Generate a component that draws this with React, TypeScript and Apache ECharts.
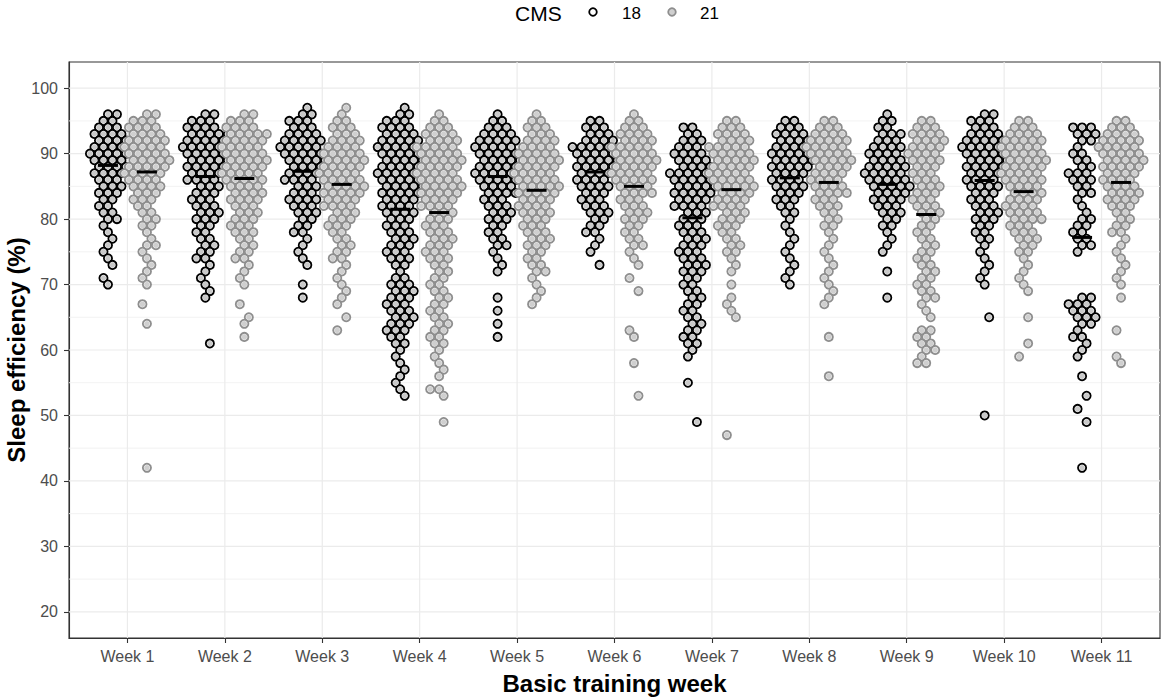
import React, { useEffect, useRef } from "react";
import * as echarts from "echarts";

// ---------- data ----------
const WEEKS = ["Week 1", "Week 2", "Week 3", "Week 4", "Week 5", "Week 6", "Week 7", "Week 8", "Week 9", "Week 10", "Week 11"];
const GROUPS = ["18", "21"];
const Y_TICKS = [20, 30, 40, 50, 60, 70, 80, 90, 100];
const Y_MINOR = [25, 35, 45, 55, 65, 75, 85, 95];

// median sleep efficiency per week
const MEDIAN_18 = [88.2, 86.5, 87.3, 81.5, 86.5, 87.2, 80.2, 86.3, 85.3, 85.9, 77.2];
const MEDIAN_21 = [87.2, 86.2, 85.3, 81.0, 84.4, 85.0, 84.5, 85.6, 80.7, 84.2, 85.6];

// [sleep efficiency %, number of observations]
const W1_18 = [[96,2],[95,2],[94,3],[93,4],[92,4],[91,4],[90,5],[89,4],[88,4],[87,4],[86,3],[85,3],[84,3],[83,2],[82,2],[81,2],[80,2],[79,1],[78,1],[77,1],[76,1],[75,1],[74,1],[73,1],[71,1],[70,1]];
const W1_21 = [[96,2],[95,3],[94,4],[93,4],[92,5],[91,5],[90,5],[89,5],[88,5],[87,5],[86,4],[85,4],[84,3],[83,3],[82,2],[81,2],[80,2],[79,2],[78,1],[77,1],[76,2],[75,1],[74,1],[73,1],[72,1],[71,1],[70,1],[67,1],[64,1],[42,1]];
const W2_18 = [[96,2],[95,3],[94,4],[93,5],[92,5],[91,5],[90,5],[89,5],[88,5],[87,4],[86,4],[85,3],[84,3],[83,3],[82,3],[81,3],[80,3],[79,2],[78,2],[77,2],[76,2],[75,2],[74,2],[73,1],[72,1],[71,1],[70,1],[69,1],[68,1],[61,1]];
const W2_21 = [[96,2],[95,3],[94,4],[93,5],[92,5],[91,5],[90,5],[89,5],[88,5],[87,5],[86,5],[85,4],[84,4],[83,4],[82,3],[81,3],[80,3],[79,3],[78,3],[77,2],[76,2],[75,2],[74,2],[73,1],[72,1],[71,1],[70,1],[67,1],[65,1],[64,1],[62,1]];
const W3_18 = [[97,1],[96,2],[95,3],[94,3],[93,4],[92,5],[91,5],[90,5],[89,5],[88,4],[87,4],[86,4],[85,3],[84,3],[83,4],[82,3],[81,3],[80,2],[79,2],[78,2],[77,1],[76,1],[75,1],[74,1],[73,1],[70,1],[68,1]];
const W3_21 = [[97,1],[96,1],[95,2],[94,3],[93,3],[92,4],[91,4],[90,5],[89,5],[88,5],[87,5],[86,5],[85,5],[84,5],[83,4],[82,4],[81,3],[80,3],[79,3],[78,2],[77,2],[76,2],[75,2],[74,2],[73,1],[72,1],[71,1],[70,1],[69,1],[68,1],[67,1],[65,1],[63,1]];
const W4_18 = [[97,1],[96,2],[95,3],[94,4],[93,4],[92,5],[91,5],[90,5],[89,5],[88,5],[87,5],[86,5],[85,5],[84,5],[83,4],[82,4],[81,4],[80,3],[79,3],[78,3],[77,3],[76,3],[75,3],[74,3],[73,2],[72,1],[71,2],[70,3],[69,3],[68,3],[67,3],[66,3],[65,3],[64,3],[63,3],[62,2],[61,2],[60,1],[59,1],[58,1],[57,1],[56,1],[55,1],[54,1],[53,1]];
const W4_21 = [[96,1],[95,2],[94,3],[93,4],[92,4],[91,5],[90,5],[89,5],[88,5],[87,5],[86,5],[85,5],[84,5],[83,4],[82,4],[81,3],[80,3],[79,3],[78,3],[77,3],[76,3],[75,3],[74,3],[73,2],[72,2],[71,2],[70,2],[69,2],[68,2],[67,2],[66,2],[65,2],[64,2],[63,2],[62,2],[61,2],[60,1],[59,1],[58,1],[57,1],[56,1],[54,2],[53,1],[49,1]];
const W5_18 = [[96,1],[95,2],[94,3],[93,4],[92,5],[91,5],[90,5],[89,5],[88,5],[87,5],[86,5],[85,4],[84,4],[83,3],[82,3],[81,3],[80,3],[79,2],[78,2],[77,2],[76,2],[75,1],[74,1],[73,1],[72,1],[68,1],[66,1],[64,1],[62,1]];
const W5_21 = [[96,1],[95,2],[94,3],[93,3],[92,4],[91,4],[90,5],[89,5],[88,5],[87,5],[86,5],[85,5],[84,5],[83,4],[82,4],[81,4],[80,3],[79,3],[78,3],[77,3],[76,3],[75,2],[74,2],[73,2],[72,2],[71,1],[70,1],[69,1],[68,1],[67,1]];
const W6_18 = [[95,2],[94,3],[93,3],[92,4],[91,5],[90,5],[89,5],[88,5],[87,4],[86,4],[85,4],[84,3],[83,3],[82,3],[81,3],[80,2],[79,2],[78,2],[77,1],[76,1],[75,1],[73,1]];
const W6_21 = [[96,1],[95,2],[94,3],[93,4],[92,4],[91,5],[90,5],[89,5],[88,5],[87,5],[86,5],[85,4],[84,4],[83,3],[82,3],[81,3],[80,3],[79,2],[78,2],[77,2],[76,2],[75,1],[74,1],[73,1],[71,1],[69,1],[63,1],[62,1],[58,1],[53,1]];
const W7_18 = [[94,2],[93,2],[92,3],[91,3],[90,4],[89,4],[88,4],[87,5],[86,5],[85,5],[84,5],[83,4],[82,4],[81,3],[80,3],[79,3],[78,3],[77,3],[76,3],[75,3],[74,3],[73,3],[72,3],[71,2],[70,2],[69,2],[68,2],[67,2],[66,2],[65,2],[64,2],[63,2],[62,2],[61,2],[60,1],[59,1],[55,1],[49,1]];
const W7_21 = [[95,2],[94,3],[93,4],[92,4],[91,5],[90,5],[89,5],[88,5],[87,5],[86,5],[85,5],[84,4],[83,4],[82,4],[81,3],[80,3],[79,3],[78,2],[77,2],[76,2],[75,2],[74,1],[73,1],[72,1],[70,1],[68,1],[67,1],[66,1],[65,1],[47,1]];
const W8_18 = [[95,2],[94,3],[93,4],[92,4],[91,4],[90,5],[89,5],[88,5],[87,4],[86,4],[85,4],[84,3],[83,3],[82,2],[81,2],[80,1],[79,1],[78,1],[77,1],[76,1],[75,1],[74,1],[73,1],[72,1],[71,1],[70,1]];
const W8_21 = [[95,2],[94,3],[93,4],[92,5],[91,5],[90,5],[89,5],[88,4],[87,4],[86,4],[85,4],[84,4],[83,3],[82,3],[81,2],[80,2],[79,2],[78,1],[77,1],[76,1],[75,1],[74,1],[73,1],[72,1],[71,1],[70,1],[69,1],[68,1],[67,1],[62,1],[56,1]];
const W9_18 = [[96,1],[95,2],[94,2],[93,3],[92,3],[91,4],[90,4],[89,4],[88,5],[87,5],[86,5],[85,5],[84,4],[83,4],[82,3],[81,3],[80,2],[79,2],[78,1],[77,1],[76,1],[75,1],[72,1],[68,1]];
const W9_21 = [[95,2],[94,3],[93,4],[92,4],[91,4],[90,4],[89,4],[88,3],[87,3],[86,3],[85,3],[84,3],[83,3],[82,3],[81,3],[80,2],[79,2],[78,2],[77,2],[76,2],[75,2],[74,2],[73,2],[72,2],[71,2],[70,2],[69,2],[68,2],[67,1],[66,1],[65,1],[63,2],[62,2],[61,2],[60,2],[59,1],[58,2]];
const W10_18 = [[96,2],[95,3],[94,3],[93,4],[92,5],[91,5],[90,5],[89,5],[88,5],[87,4],[86,4],[85,4],[84,3],[83,3],[82,3],[81,3],[80,3],[79,2],[78,2],[77,2],[76,1],[75,1],[74,1],[73,1],[72,1],[71,1],[70,1],[65,1],[50,1]];
const W10_21 = [[95,2],[94,3],[93,4],[92,5],[91,5],[90,5],[89,5],[88,5],[87,5],[86,5],[85,4],[84,4],[83,4],[82,4],[81,4],[80,4],[79,3],[78,3],[77,3],[76,2],[75,2],[74,1],[73,1],[72,1],[71,1],[70,1],[69,1],[65,1],[61,1],[59,1]];
const W11_18 = [[94,3],[93,3],[92,2],[91,1],[90,2],[89,2],[88,2],[87,3],[86,3],[85,2],[84,2],[83,1],[82,1],[81,1],[80,2],[79,2],[78,2],[77,2],[76,2],[75,1],[68,2],[67,3],[66,3],[65,3],[64,2],[63,1],[62,2],[61,1],[60,1],[59,1],[56,1],[53,1],[51,1],[49,1],[42,1]];
const W11_21 = [[95,2],[94,3],[93,4],[92,5],[91,5],[90,5],[89,5],[88,5],[87,4],[86,4],[85,4],[84,4],[83,4],[82,3],[81,2],[80,2],[79,2],[78,2],[77,1],[76,1],[75,1],[74,1],[73,1],[72,1],[71,1],[70,1],[68,1],[63,1],[59,1],[58,1]];

const CMS18 = [W1_18, W2_18, W3_18, W4_18, W5_18, W6_18, W7_18, W8_18, W9_18, W10_18, W11_18];
const CMS21 = [W1_21, W2_21, W3_21, W4_21, W5_21, W6_21, W7_21, W8_21, W9_21, W10_21, W11_21];

// ---------- layout ----------
const W = 1170;
const H = 700;
const GRID = { left: 69, right: 10, top: 62, bottom: 62 };
const Y_MIN = 16;
const Y_MAX = 104;
const X_MIN = 0.4;
const X_MAX = 11.6;
const DODGE = 0.2;
const R = 4.1;
const STROKE_W = 1.8;
const SPACING = 9;
const FONT = "'Liberation Sans', Arial, Helvetica, sans-serif";

// beeswarm-like packing: points sharing a value sit side by side,
// neighbouring rows are staggered by half a point so they interlock.
function rowOffsets(value: number, n: number): number[] {
  const natural = n % 2 === 0 ? SPACING / 2 : 0;
  const desired = Math.round(value) % 2 === 0 ? 0 : SPACING / 2;
  let shift = 0;
  if (Math.abs(desired - natural) > 1e-6) {
    shift = (Math.floor(Math.round(value) / 2) % 2 === 0 ? 1 : -1) * (SPACING / 2);
  }
  const out: number[] = [];
  for (let i = 0; i < n; i++) out.push((i - (n - 1) / 2) * SPACING + shift);
  return out;
}

function buildPoints(weeks: number[][][], dodge: number): number[][] {
  const out: number[][] = [];
  weeks.forEach((bins, wi) => {
    bins.forEach(([v, n]) => {
      rowOffsets(v, n).forEach((off) => out.push([wi + 1 + dodge, v, off]));
    });
  });
  return out;
}

const STYLE = {
  "18": { stroke: "#000000", inner: "#c9c9c9" },
  "21": { stroke: "#8e8e8e", inner: "#cfcfcf" },
};

function pointSeries(name: string, data: number[][], z: number) {
  const st = (STYLE as any)[name];
  return {
    type: "custom",
    name,
    data,
    z,
    dimensions: ["x", "y", "off"],
    encode: { x: 0, y: 1 },
    renderItem: (_params: any, api: any) => {
      const c = api.coord([api.value(0), api.value(1)]);
      const cx = c[0] + Number(api.value(2));
      const cy = c[1];
      return {
        type: "group",
        children: [
          { type: "circle", shape: { cx, cy, r: R }, style: { fill: "#f2f2f2", stroke: st.stroke, lineWidth: STROKE_W } },
          { type: "circle", shape: { cx, cy, r: 2.7 }, style: { fill: st.inner } },
        ],
      };
    },
  };
}

export default function App() {
  const ref = useRef<HTMLDivElement>(null);

  useEffect(() => {
    if (!ref.current) return;
    const chart = echarts.init(ref.current, undefined, { renderer: "svg" });

    const pts18 = buildPoints(CMS18, -DODGE);
    const pts21 = buildPoints(CMS21, DODGE);
    const medians = [
      ...MEDIAN_18.map((m, i) => [i + 1 - DODGE, m]),
      ...MEDIAN_21.map((m, i) => [i + 1 + DODGE, m]),
    ];
    const gridItems = [
      ...Y_MINOR.map((v) => [X_MIN, v, 0]),
      ...Y_TICKS.map((v) => [X_MIN, v, 1]),
      ...WEEKS.map((_, i) => [i + 1, Y_MIN, 2]),
    ];
    const weekVals = WEEKS.map((_, i) => i + 1);

    const option: any = {
      animation: false,
      textStyle: { fontFamily: FONT },
      grid: {
        left: GRID.left,
        right: GRID.right,
        top: GRID.top,
        bottom: GRID.bottom,
        show: true,
        borderColor: "#333333",
        borderWidth: 1.1,
        backgroundColor: "transparent",
      },
      xAxis: {
        type: "value",
        min: X_MIN,
        max: X_MAX,
        axisLine: { show: true, lineStyle: { color: "#333333", width: 1.1 } },
        axisTick: { show: true, customValues: weekVals, length: 5, lineStyle: { color: "#333333", width: 1.1 } },
        axisLabel: {
          customValues: weekVals,
          formatter: (v: number) => WEEKS[Math.round(v) - 1] || "",
          color: "#4d4d4d",
          fontSize: 16,
          fontFamily: FONT,
          margin: 10,
        },
        splitLine: { show: false },
      },
      yAxis: {
        type: "value",
        min: Y_MIN,
        max: Y_MAX,
        axisLine: { show: true, lineStyle: { color: "#333333", width: 1.1 } },
        axisTick: { show: true, customValues: Y_TICKS, length: 5, lineStyle: { color: "#333333", width: 1.1 } },
        axisLabel: {
          customValues: Y_TICKS,
          formatter: (v: number) => String(v),
          color: "#4d4d4d",
          fontSize: 16,
          fontFamily: FONT,
          margin: 11,
        },
        splitLine: { show: false },
      },
      series: [
        {
          type: "custom",
          name: "grid",
          silent: true,
          z: 1,
          data: gridItems,
          encode: { x: 0, y: 1 },
          renderItem: (params: any, api: any) => {
            const cs = params.coordSys;
            const kind = Number(api.value(2));
            if (kind === 2) {
              const x = api.coord([api.value(0), Y_MIN])[0];
              return { type: "line", shape: { x1: x, y1: cs.y, x2: x, y2: cs.y + cs.height }, style: { stroke: "#ebebeb", lineWidth: 1.2 } };
            }
            const y = api.coord([X_MIN, api.value(1)])[1];
            return {
              type: "line",
              shape: { x1: cs.x, y1: y, x2: cs.x + cs.width, y2: y },
              style: { stroke: kind === 1 ? "#ebebeb" : "#f0f0f0", lineWidth: kind === 1 ? 1.2 : 0.9 },
            };
          },
        },
        pointSeries(GROUPS[0], pts18, 3),
        pointSeries(GROUPS[1], pts21, 4),
        {
          type: "custom",
          name: "median",
          z: 6,
          data: medians,
          encode: { x: 0, y: 1 },
          renderItem: (_params: any, api: any) => {
            const c = api.coord([api.value(0), api.value(1)]);
            return { type: "rect", shape: { x: c[0] - 10, y: c[1] - 1.5, width: 20, height: 3 }, style: { fill: "#000000" } };
          },
        },
      ],
      graphic: [
        {
          type: "text",
          x: 16,
          y: (GRID.top + H - GRID.bottom) / 2,
          rotation: Math.PI / 2,
          style: { text: "Sleep efficiency (%)", fontSize: 24, fontWeight: "bold", fill: "#000", align: "center", verticalAlign: "middle", fontFamily: FONT },
        },
        {
          type: "text",
          x: (GRID.left + W - GRID.right) / 2,
          y: 683,
          style: { text: "Basic training week", fontSize: 24, fontWeight: "bold", fill: "#000", align: "center", verticalAlign: "middle", fontFamily: FONT },
        },
        { type: "text", x: 515, y: 13, style: { text: "CMS", fontSize: 21, fill: "#000", align: "left", verticalAlign: "middle", fontFamily: FONT } },
        { type: "circle", shape: { cx: 593, cy: 12, r: 3.8 }, style: { fill: "#ffffff", stroke: STYLE["18"].stroke, lineWidth: STROKE_W } },
        { type: "text", x: 622, y: 13, style: { text: GROUPS[0], fontSize: 17, fill: "#000", align: "left", verticalAlign: "middle", fontFamily: FONT } },
        { type: "circle", shape: { cx: 672, cy: 12, r: 3.8 }, style: { fill: STYLE["21"].inner, stroke: STYLE["21"].stroke, lineWidth: STROKE_W } },
        { type: "text", x: 700, y: 13, style: { text: GROUPS[1], fontSize: 17, fill: "#000", align: "left", verticalAlign: "middle", fontFamily: FONT } },
      ],
    };

    chart.setOption(option);
    return () => chart.dispose();
  }, []);

  return <div ref={ref} style={{ position: "fixed", left: 0, top: 0, width: W, height: H, background: "#fff" }} />;
}
